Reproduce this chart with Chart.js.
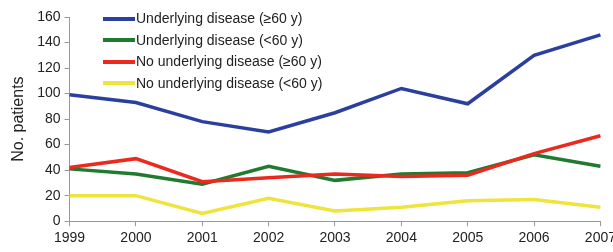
<!DOCTYPE html>
<html>
<head>
<meta charset="utf-8">
<script src="https://cdn.jsdelivr.net/npm/chart.js@4.4.1/dist/chart.umd.min.js"></script>
<style>
  html, body { margin: 0; padding: 0; background: #fff; overflow: hidden; }
  #wrap { position: relative; width: 620px; height: 252px; }
  #legend { position: absolute; left: 103px; top: 8px; font: 14px "Liberation Sans", Arial, sans-serif; color: #222; }
  #legend div { height: 21.5px; line-height: 21.5px; white-space: nowrap; display: flex; align-items: center; }
  #legend span.sw { display: inline-block; width: 32px; height: 4px; margin-right: 1px; }
</style>
</head>
<body>
<div id="wrap">
  <canvas id="c" width="620" height="252"></canvas>
  <div id="legend"></div>
</div>
<script>
// line chart: patients per year by underlying disease / age group
const years = ['1999','2000','2001','2002','2003','2004','2005','2006','2007'];
const seriesLabels = ['Underlying disease (\u226560 y)', 'Underlying disease (<60 y)', 'No underlying disease (\u226560 y)', 'No underlying disease (<60 y)'];
const underlyingOld = [99, 93, 78, 70, 85, 104, 92, 130, 146];
const underlyingYoung = [41, 37, 29, 43, 32, 37, 38, 52, 43];
const noUnderlyingOld = [42, 49, 31, 34, 37, 35, 36, 53, 67];
const noUnderlyingYoung = [20, 20, 6, 18, 8, 11, 16, 17, 11];
const colors = ['#2b3f9f', '#1e7b30', '#ea2a1f', '#eee43c'];

const values = [underlyingOld, underlyingYoung, noUnderlyingOld, noUnderlyingYoung];
const datasets = values.map((v, i) => ({
  label: seriesLabels[i], data: v, borderColor: colors[i], backgroundColor: colors[i],
  borderWidth: 3.5, pointRadius: 0, tension: 0, fill: false
}));

// draw in reverse so blue sits on top like the original
datasets.reverse();

const font = { family: '"Liberation Sans", Arial, sans-serif', size: 14 };
new Chart(document.getElementById('c').getContext('2d'), {
  type: 'line',
  data: { labels: years, datasets },
  options: {
    responsive: false,
    animation: false,
    layout: { padding: { top: 17, right: 0, left: 4, bottom: 1 } },
    plugins: { legend: { display: false }, tooltip: { enabled: false } },
    scales: {
      x: {
        offset: false,
        grid: { drawOnChartArea: false, drawTicks: true, tickLength: 5, color: '#999' },
        border: { display: true, color: '#999' },
        ticks: { color: '#222', font, padding: 4, maxRotation: 0, autoSkip: false }
      },
      y: {
        min: 0, max: 160,
        grid: { drawOnChartArea: false, drawTicks: true, tickLength: 5, color: '#999' },
        border: { display: true, color: '#999' },
        ticks: { stepSize: 20, color: '#222', font, padding: 4 },
        title: { display: true, text: 'No. patients', color: '#222', font: { ...font, size: 16 }, padding: 5 }
      }
    }
  }
});

const legend = document.getElementById('legend');
seriesLabels.forEach((l, i) => {
  const row = document.createElement('div');
  const sw = document.createElement('span');
  sw.className = 'sw';
  sw.style.background = colors[i];
  row.appendChild(sw);
  row.appendChild(document.createTextNode(l));
  legend.appendChild(row);
});
</script>
</body>
</html>
